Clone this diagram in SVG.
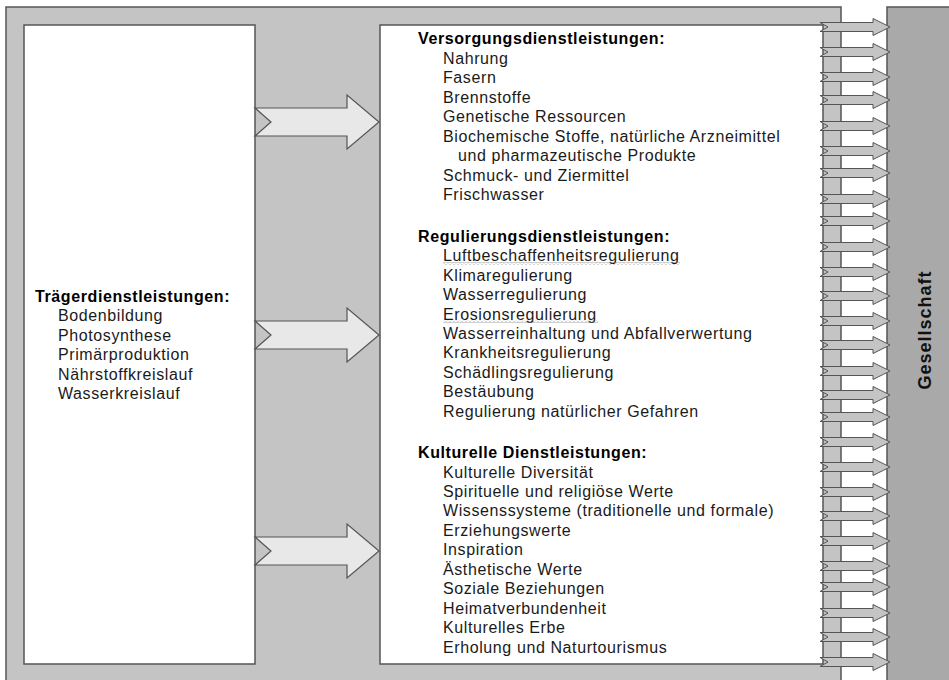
<svg xmlns="http://www.w3.org/2000/svg" xmlns:xlink="http://www.w3.org/1999/xlink" width="949" height="680" viewBox="0 0 949 680">
<style>
.frame{fill:#c4c4c4;stroke:#555;stroke-width:1.5}
.box{fill:#fff;stroke:#555;stroke-width:1.5}
.soc{fill:#a9a9a9;stroke:#555;stroke-width:1.5}
.big{fill:#e8e8e8;stroke:#555;stroke-width:1.2}
.small{fill:#c4c4c4;stroke:#555;stroke-width:1}
text{font-family:"Liberation Sans",Arial,sans-serif;font-size:16px;fill:#1a1a1a;letter-spacing:0.6px}
.h{font-weight:bold;fill:#000}
.soctxt{font-weight:bold;font-size:18px;letter-spacing:1px;fill:#111}
</style>
<defs>
<path id="bigArrow" d="M255,-14 H347 V-27 L379,0 L347,27 V14 H255 L271,0 Z"/>
<path id="smallArrow" d="M820,-4.5 H873 V-8.5 L890,0 L873,8.5 V4.5 H820 L828,0 Z"/>
<pattern id="squig" width="4" height="3" patternUnits="userSpaceOnUse">
<path d="M0,2.5 L2,0.5 L4,2.5" fill="none" stroke="#8a8a8a" stroke-width="0.8"/>
</pattern>
</defs>
<rect width="949" height="680" fill="#fff"/>
<g id="frame"><rect class="frame" x="6" y="7" width="835" height="690"/></g>
<g id="gesellschaft">
<rect class="soc" x="887" y="7" width="70" height="690"/>
<text class="soctxt" transform="translate(931,330) rotate(-90)" text-anchor="middle">Gesellschaft</text>
</g>
<g id="traeger">
<rect class="box" x="24" y="25" width="231" height="639"/>
<text class="h" x="35" y="302">Trägerdienstleistungen:</text>
<text x="58" y="321.4">Bodenbildung</text>
<text x="58" y="340.8">Photosynthese</text>
<text x="58" y="360.2">Primärproduktion</text>
<text x="58" y="379.6">Nährstoffkreislauf</text>
<text x="58" y="399">Wasserkreislauf</text>
</g>
<g id="leistungen">
<rect class="box" x="380" y="25" width="443" height="639"/>
<text class="h" x="418" y="44">Versorgungsdienstleistungen:</text>
<text x="443" y="63.5">Nahrung</text>
<text x="443" y="83">Fasern</text>
<text x="443" y="102.5">Brennstoffe</text>
<text x="443" y="122">Genetische Ressourcen</text>
<text x="443" y="141.5">Biochemische Stoffe, natürliche Arzneimittel</text>
<text x="458" y="161">und pharmazeutische Produkte</text>
<text x="443" y="180.5">Schmuck- und Ziermittel</text>
<text x="443" y="200">Frischwasser</text>
<text class="h" x="418" y="242">Regulierungsdienstleistungen:</text>
<text x="443" y="261.4">Luftbeschaffenheitsregulierung</text>
<rect x="443" y="262" width="237" height="3" fill="url(#squig)"/>
<text x="443" y="280.8">Klimaregulierung</text>
<text x="443" y="300.2">Wasserregulierung</text>
<text x="443" y="319.6">Erosionsregulierung</text>
<rect x="443" y="320.2" width="155" height="3" fill="url(#squig)"/>
<text x="443" y="339">Wasserreinhaltung und Abfallverwertung</text>
<text x="443" y="358.4">Krankheitsregulierung</text>
<text x="443" y="377.8">Schädlingsregulierung</text>
<text x="443" y="397.2">Bestäubung</text>
<text x="443" y="416.6">Regulierung natürlicher Gefahren</text>
<text class="h" x="418" y="458">Kulturelle Dienstleistungen:</text>
<text x="443" y="477.5">Kulturelle Diversität</text>
<text x="443" y="497">Spirituelle und religiöse Werte</text>
<text x="443" y="516.4">Wissenssysteme (traditionelle und formale)</text>
<text x="443" y="535.8">Erziehungswerte</text>
<text x="443" y="555.3">Inspiration</text>
<text x="443" y="574.8">Ästhetische Werte</text>
<text x="443" y="594.2">Soziale Beziehungen</text>
<text x="443" y="613.6">Heimatverbundenheit</text>
<text x="443" y="633">Kulturelles Erbe</text>
<text x="443" y="652.5">Erholung und Naturtourismus</text>
</g>
<g id="connectors">
<use xlink:href="#bigArrow" class="big" y="122"/>
<use xlink:href="#bigArrow" class="big" y="335"/>
<use xlink:href="#bigArrow" class="big" y="551"/>
<use xlink:href="#smallArrow" class="small" y="27"/>
<use xlink:href="#smallArrow" class="small" y="52"/>
<use xlink:href="#smallArrow" class="small" y="77"/>
<use xlink:href="#smallArrow" class="small" y="100"/>
<use xlink:href="#smallArrow" class="small" y="126"/>
<use xlink:href="#smallArrow" class="small" y="151"/>
<use xlink:href="#smallArrow" class="small" y="173"/>
<use xlink:href="#smallArrow" class="small" y="199"/>
<use xlink:href="#smallArrow" class="small" y="221"/>
<use xlink:href="#smallArrow" class="small" y="247"/>
<use xlink:href="#smallArrow" class="small" y="272"/>
<use xlink:href="#smallArrow" class="small" y="296"/>
<use xlink:href="#smallArrow" class="small" y="321"/>
<use xlink:href="#smallArrow" class="small" y="345"/>
<use xlink:href="#smallArrow" class="small" y="371"/>
<use xlink:href="#smallArrow" class="small" y="395"/>
<use xlink:href="#smallArrow" class="small" y="417"/>
<use xlink:href="#smallArrow" class="small" y="442"/>
<use xlink:href="#smallArrow" class="small" y="467"/>
<use xlink:href="#smallArrow" class="small" y="492"/>
<use xlink:href="#smallArrow" class="small" y="516"/>
<use xlink:href="#smallArrow" class="small" y="541"/>
<use xlink:href="#smallArrow" class="small" y="566"/>
<use xlink:href="#smallArrow" class="small" y="587"/>
<use xlink:href="#smallArrow" class="small" y="613"/>
<use xlink:href="#smallArrow" class="small" y="637"/>
<use xlink:href="#smallArrow" class="small" y="662"/>
</g>
</svg>
